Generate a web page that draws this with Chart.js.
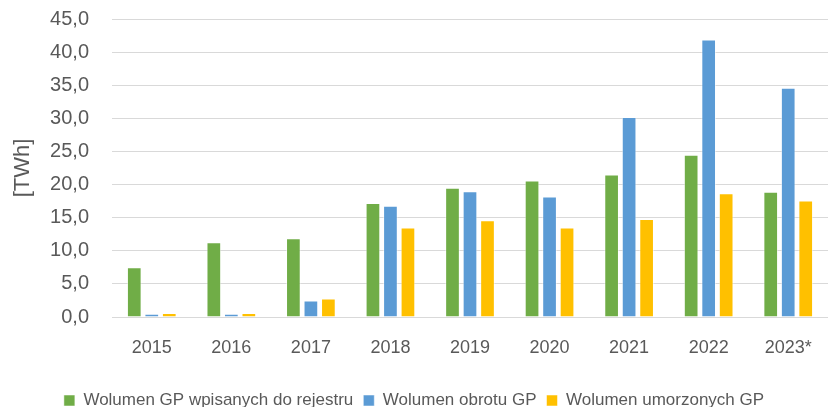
<!DOCTYPE html>
<html>
<head>
<meta charset="utf-8">
<script src="https://cdn.jsdelivr.net/npm/chart.js@4/dist/chart.umd.min.js"></script>
<style>
html,body{margin:0;padding:0;background:#fff;overflow:hidden;}
#wrap{width:837px;height:407px;position:relative;}
</style>
</head>
<body>
<div id="wrap"><canvas id="c"></canvas></div>
<script>
const categories = ["2015","2016","2017","2018","2019","2020","2021","2022","2023*"];
const seriesNames = ["Wolumen GP wpisanych do rejestru","Wolumen obrotu GP","Wolumen umorzonych GP"];
const registered = [7.5, 11.3, 11.9, 17.2, 19.5, 20.6, 21.5, 24.5, 18.9];
const traded     = [0.5, 0.5, 2.5, 16.8, 19.0, 18.2, 30.2, 41.9, 34.6];
const redeemed   = [0.6, 0.6, 2.8, 13.5, 14.6, 13.5, 14.8, 18.7, 17.6];
const yTicks = [0,5,10,15,20,25,30,35,40,45];
const colors = ["#70AD47","#5B9BD5","#FFC000"];
const textColor = "#595959";
const fam = "'Liberation Sans',Arial,sans-serif";

const mk = (label, data, color) => ({
  label, data, backgroundColor: color, borderColor: "rgba(255,255,255,0.5)", borderWidth: 1,
  barPercentage: 0.84, categoryPercentage: 0.66
});

new Chart(document.getElementById("c"), {
  type: "bar",
  data: {
    labels: categories,
    datasets: [mk(seriesNames[0], registered, colors[0]), mk(seriesNames[1], traded, colors[1]), mk(seriesNames[2], redeemed, colors[2])]
  },
  options: {
    responsive: true, maintainAspectRatio: false, animation: false,
    layout: { padding: { top: 0, right: 9, left: 0, bottom: -12 } },
    plugins: {
      tooltip: { enabled: false },
      legend: {
        position: "bottom",
        labels: { color: textColor, font: { family: fam, size: 17 }, boxWidth: 11, boxHeight: 11, padding: 10 }
      }
    },
    scales: {
      x: {
        grid: { display: false },
        border: { display: false },
        ticks: { color: textColor, font: { family: fam, size: 18 }, padding: 12 },
        afterFit: s => { s.height = 65; }
      },
      y: {
        min: 0, max: 45,
        afterBuildTicks: s => { s.ticks = yTicks.map(v => ({ value: v })); },
        grid: { color: "#D9D9D9", lineWidth: 1, drawTicks: true, tickLength: 16, tickColor: "rgba(0,0,0,0)" },
        border: { display: false },
        ticks: { color: textColor, font: { family: fam, size: 20 }, padding: 7,
          callback: v => v.toFixed(1).replace(".", ",") },
        title: { display: true, text: "[TWh]", color: textColor, font: { family: fam, size: 22 }, padding: { top: 10, bottom: 0 } },
        afterFit: s => { s.width = 112; }
      }
    }
  }
});
</script>
</body>
</html>
